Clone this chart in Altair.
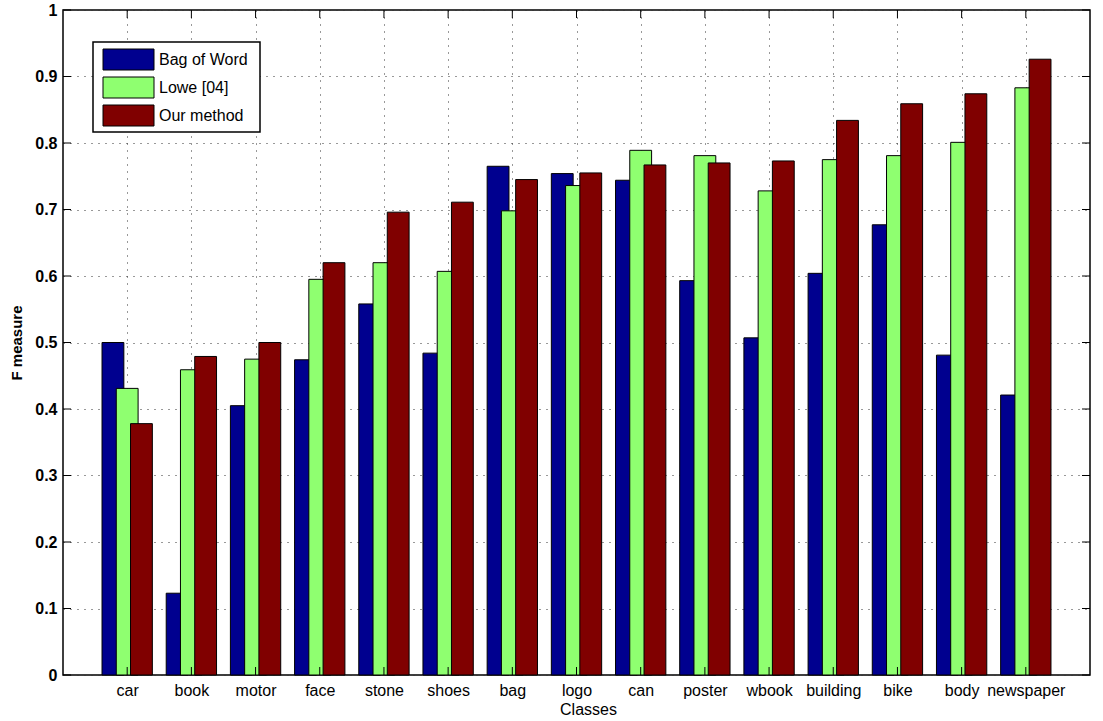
import altair as alt
import pandas as pd

# Per-class F measure for the three methods
classes = ["car", "book", "motor", "face", "stone", "shoes", "bag", "logo",
           "can", "poster", "wbook", "building", "bike", "body", "newspaper"]
bag_of_word = [0.500, 0.123, 0.405, 0.474, 0.558, 0.484, 0.765, 0.754,
               0.744, 0.593, 0.507, 0.604, 0.677, 0.481, 0.421]
lowe_04 = [0.431, 0.459, 0.475, 0.595, 0.620, 0.607, 0.698, 0.736,
           0.789, 0.781, 0.728, 0.775, 0.781, 0.801, 0.883]
our_method = [0.378, 0.479, 0.500, 0.620, 0.696, 0.711, 0.745, 0.755,
              0.767, 0.770, 0.773, 0.834, 0.859, 0.874, 0.926]

series_names = ["Bag of Word", "Lowe [04]", "Our method"]
series_colors = ["#00008F", "#8FFF70", "#800000"]
y_ticks = [0, 0.1, 0.2, 0.3, 0.4, 0.5, 0.6, 0.7, 0.8, 0.9, 1]

W, H = 1027, 665
FONT = "Liberation Sans"
BAR_STEP = 0.222   # offset between neighbouring bars in a group
BAR_HALF = 0.17    # half width of one bar

rows = []
for s_idx, (name, vals) in enumerate(zip(series_names, [bag_of_word, lowe_04, our_method])):
    for g_idx, (cls, v) in enumerate(zip(classes, vals)):
        rows.append({"cls": cls, "pos": g_idx + 1, "series": name, "s": s_idx, "value": v})
df = pd.DataFrame(rows)

x_scale = alt.Scale(domain=[0, 16], nice=False, zero=False)
y_scale = alt.Scale(domain=[0, 1], nice=False)
grid_dash = [1, 6]

label_expr = "[" + ",".join(f"'{c}'" for c in classes) + "][datum.value - 1]"

x_axis = alt.Axis(
    values=list(range(1, 16)), labelExpr=label_expr,
    labelFont=FONT, labelFontSize=16, labelColor="black", labelPadding=7,
    labelFlush=False, labelOverlap=False,
    title="Classes", titleFont=FONT, titleFontSize=16, titleFontWeight="normal",
    titleColor="black", titlePadding=3, titleX=525,
    grid=True, gridDash=grid_dash, gridColor="#333", gridWidth=1,
    ticks=False, tickSize=0, domain=False)
y_axis = alt.Axis(
    values=y_ticks, format=".1~f",
    labelFont=FONT, labelFontSize=16, labelFontWeight="bold", labelColor="black",
    labelPadding=6, labelFlush=False,
    title="F measure", titleFont=FONT, titleFontSize=15, titleFontWeight="bold",
    titleColor="black", titlePadding=10,
    grid=True, gridDash=grid_dash, gridColor="#333", gridWidth=1,
    ticks=False, tickSize=0, domain=False)

bars = alt.Chart(df).transform_calculate(
    x0=f"datum.pos + (datum.s - 1) * {BAR_STEP} - {BAR_HALF}",
    x1=f"datum.pos + (datum.s - 1) * {BAR_STEP} + {BAR_HALF}",
    base="0",
).mark_rect(stroke="black", strokeWidth=1).encode(
    x=alt.X("x0:Q", scale=x_scale, axis=x_axis),
    x2="x1:Q",
    y=alt.Y("value:Q", scale=y_scale, axis=y_axis),
    y2="base:Q",
    color=alt.Color("series:N", scale=alt.Scale(domain=series_names, range=series_colors),
                    legend=None),
)

# Inward tick marks on all four sides of the box
ydf = pd.DataFrame({"t": y_ticks})
xdf = pd.DataFrame({"p": list(range(1, 16))})
tick_left = alt.Chart(ydf).mark_rule(color="black", strokeWidth=1).encode(
    y=alt.Y("t:Q", scale=y_scale, axis=y_axis), x=alt.value(0), x2=alt.value(8))
tick_right = alt.Chart(ydf).mark_rule(color="black", strokeWidth=1).encode(
    y=alt.Y("t:Q", scale=y_scale, axis=y_axis), x=alt.value(W - 8), x2=alt.value(W))
tick_bottom = alt.Chart(xdf).mark_rule(color="black", strokeWidth=1).encode(
    x=alt.X("p:Q", scale=x_scale, axis=x_axis), y=alt.value(H - 8), y2=alt.value(H))
tick_top = alt.Chart(xdf).mark_rule(color="black", strokeWidth=1).encode(
    x=alt.X("p:Q", scale=x_scale, axis=x_axis), y=alt.value(0), y2=alt.value(8))

# Boxed legend in the upper left corner
one = pd.DataFrame({"k": [0]})
legend_layers = [
    alt.Chart(one).mark_rect(fill="white", stroke="black", strokeWidth=1.5).encode(
        x=alt.value(30), x2=alt.value(197), y=alt.value(32), y2=alt.value(122))
]
for i, (name, col) in enumerate(zip(series_names, series_colors)):
    entry = pd.DataFrame({"series": [name]})
    legend_layers.append(
        alt.Chart(entry).mark_rect(fill=col, stroke="black", strokeWidth=1).encode(
            x=alt.value(40), x2=alt.value(91),
            y=alt.value(39 + 28 * i), y2=alt.value(60 + 28 * i)))
    legend_layers.append(
        alt.Chart(entry).mark_text(align="left", baseline="middle", font=FONT,
                                   fontSize=16, color="black").encode(
            x=alt.value(96), y=alt.value(50 + 28 * i), text="series:N"))

chart = alt.layer(
    bars, tick_left, tick_right, tick_bottom, tick_top, *legend_layers
).properties(
    width=W, height=H,
    autosize="none",
    padding={"left": 63, "top": 10, "right": 13, "bottom": 46},
    background="white",
).configure_view(
    stroke="black", strokeWidth=1.5
)

chart.save("out.html", embed_options={"renderer": "svg", "actions": False})
